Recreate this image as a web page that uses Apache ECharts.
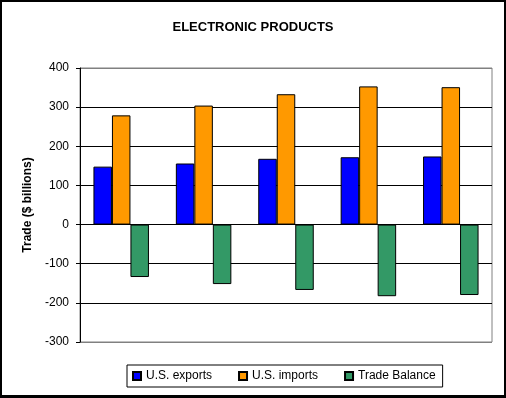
<!DOCTYPE html>
<html>
<head>
<meta charset="utf-8">
<script src="https://cdn.jsdelivr.net/npm/echarts@6/dist/echarts.min.js"></script>
<style>
  html, body { margin: 0; padding: 0; background: #fff; }
  #main { width: 506px; height: 398px; }
</style>
</head>
<body>
<div id="main"></div>
<script>
// 数据
var categories = ['1', '2', '3', '4', '5'];
var usExports = [148, 156, 168, 172, 174];
var usImports = [279, 304, 333, 353, 351];
var tradeBalance = [-134, -152, -167, -183, -180];
var yTicks = [-300, -200, -100, 0, 100, 200, 300, 400];

var FONT = '"Liberation Sans", Arial, sans-serif';

var myChart = echarts.init(document.getElementById('main'));

// 网格线：上下边框为灰色，其余为黑色
var splitColors = yTicks.map(function (v, i) {
    return (i == 0 || i == yTicks.length - 1) ? '#808080' : '#000';
});

function barSeries(name, data, color) {
    return {
        name: name,
        type: 'bar',
        data: data,
        barWidth: 18.5,
        barGap: '0%',
        itemStyle: { color: color, borderColor: '#000', borderWidth: 1 }
    };
}

var option = {
    animation: false,
    backgroundColor: '#fff',
    textStyle: { fontFamily: FONT },
    title: {
        text: 'ELECTRONIC PRODUCTS',
        left: 'center',
        top: 16,
        textStyle: { fontFamily: FONT, fontSize: 13, fontWeight: 'bold', color: '#000' }
    },
    grid: {
        left: 80, right: 14, top: 68, bottom: 56,
        show: true, borderColor: '#808080', borderWidth: 1
    },
    legend: {
        left: 127,
        top: 365,
        padding: [5, 7, 5, 5],
        itemGap: 26,
        itemWidth: 8,
        itemHeight: 8,
        icon: 'rect',
        borderColor: '#000',
        borderWidth: 1,
        textStyle: { fontFamily: FONT, fontSize: 12, color: '#000' },
        data: ['U.S. exports', 'U.S. imports', 'Trade Balance']
    },
    xAxis: {
        type: 'category',
        data: categories,
        axisLine: { show: false },
        axisTick: { show: false },
        axisLabel: { show: false }
    },
    yAxis: {
        type: 'value',
        min: yTicks[0],
        max: yTicks[yTicks.length - 1],
        interval: 100,
        name: 'Trade ($ billions)',
        nameLocation: 'middle',
        nameGap: 46,
        nameTextStyle: { fontFamily: FONT, fontSize: 12, fontWeight: 'bold', color: '#000' },
        axisLine: { show: true, lineStyle: { color: '#000', width: 1 } },
        axisTick: { show: true, length: 4, lineStyle: { color: '#000' } },
        axisLabel: { margin: 11, fontFamily: FONT, fontSize: 12, color: '#000' },
        splitLine: { show: true, lineStyle: { color: splitColors, width: 1 } }
    },
    graphic: [{
        type: 'rect',
        shape: { x: 1, y: 1, width: 504, height: 395 },
        style: { fill: 'none', stroke: '#000', lineWidth: 2 },
        z: 100
    }, {
        type: 'rect',
        shape: { x: 0, y: 396, width: 506, height: 2 },
        style: { fill: '#000' },
        z: 100
    }],
    series: [
        barSeries('U.S. exports', usExports, '#0000FF'),
        barSeries('U.S. imports', usImports, '#FF9900'),
        barSeries('Trade Balance', tradeBalance, '#339966')
    ]
};

myChart.setOption(option);
</script>
</body>
</html>
